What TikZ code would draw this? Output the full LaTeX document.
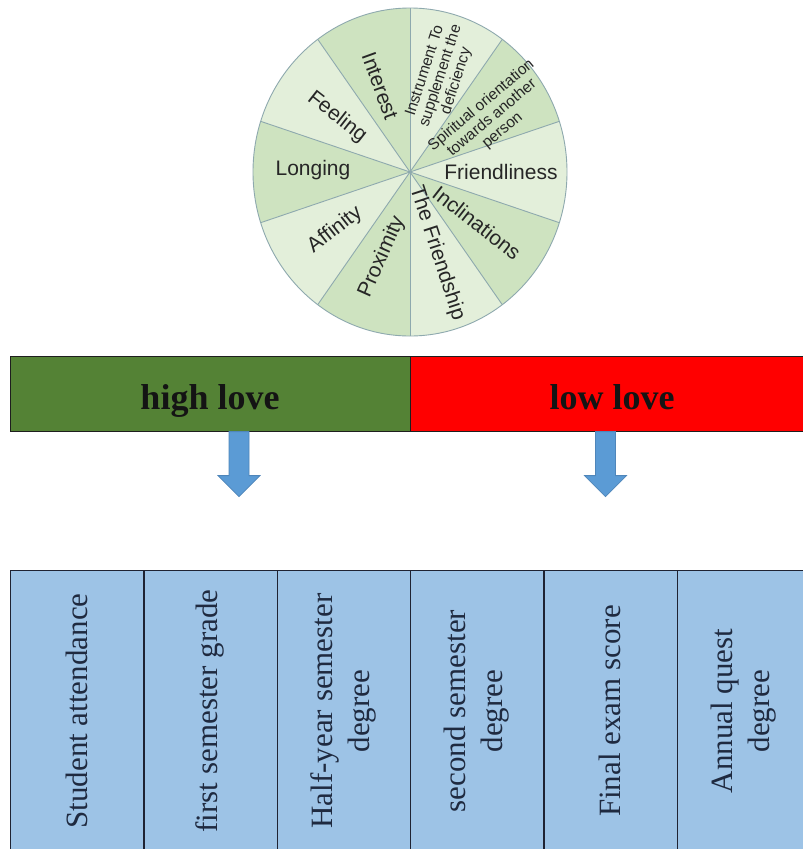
\documentclass[tikz,border=0pt]{standalone}
\usepackage{fontspec}
\setmainfont{Liberation Serif}
\newfontfamily\wheelfont{Liberation Sans}
\definecolor{wlight}{HTML}{E3EFDA}
\definecolor{wdark}{HTML}{CEE3C0}
\definecolor{wline}{HTML}{8EA9AE}
\definecolor{wtext}{HTML}{262626}
\definecolor{hlgreen}{HTML}{548235}
\definecolor{lowred}{HTML}{FF0000}
\definecolor{barline}{HTML}{1E1E1E}
\definecolor{arrfill}{HTML}{5B9BD5}
\definecolor{arrline}{HTML}{4F86BA}
\definecolor{cellfill}{HTML}{9DC3E6}
\definecolor{cellline}{HTML}{1F2333}
\definecolor{ctext}{HTML}{1F2A40}
\begin{document}
\begin{tikzpicture}[x=1pt,y=1pt,
  wl/.style={font=\wheelfont\fontsize{21}{24}\selectfont, text=wtext, inner sep=0pt},
  ws/.style={font=\wheelfont\fontsize{15.5}{16.5}\selectfont, text=wtext, inner sep=0pt, align=center},
  wborder/.style={draw=wline, line width=0.9pt},
  barbox/.style={draw=barline, line width=1.2pt, minimum height=75pt, inner sep=0pt, anchor=north west},
  bartext/.style={font=\bfseries\fontsize{36}{40}\selectfont, text=black!92, inner sep=0pt},
  cellbox/.style={draw=cellline, line width=1.3pt, fill=cellfill, minimum width=133.33pt, minimum height=300pt, inner sep=0pt, anchor=north west},
  celltext/.style={font=\fontsize{31}{37}\selectfont, text=ctext, rotate=90, align=center, inner sep=0pt},
  arrowstyle/.style={fill=arrfill, draw=arrline, line width=0.8pt},
  downarr/.pic={\draw[arrowstyle] (-10,0) -- (-10,-44) -- (-21,-44) -- (0,-65) -- (21,-44) -- (10,-44) -- (10,0) -- cycle;}
]
\path[use as bounding box, clip] (0,0) rectangle (803,-849);
\fill[white] (0,0) rectangle (803,-849);

% ---------- wheel ----------
\coordinate (C) at (410,-172);
\foreach \a/\c in {-18/wlight, 18/wdark, 54/wlight, 90/wdark, 126/wlight, 162/wdark, 198/wlight, 234/wdark, 270/wlight, 306/wdark}{
  \fill[\c] (C) -- ++(\a:157pt and 164pt) arc[start angle=\a, delta angle=36, x radius=157pt, y radius=164pt] -- cycle;
}
\foreach \a in {-18, 18, 54, 90, 126, 162, 198, 234, 270, 306}{
  \draw[wborder] (C) -- ++(\a:157pt and 164pt);
}
\draw[wborder] (C) ellipse [x radius=157pt, y radius=164pt];

\node[wl, rotate=-70] (interest) at (380,-86) {Interest};
\node[wl, rotate=-38] (feeling) at (337,-117) {Feeling};
\node[wl] (longing) at (313,-170) {Longing};
\node[wl, rotate=38] (affinity) at (335,-230) {Affinity};
\node[wl, rotate=66] (proximity) at (382,-257) {Proximity};
\node[wl, rotate=-72] (friendship) at (437,-253) {The Friendship};
\node[wl, rotate=-38] (inclinations) at (477,-223) {Inclinations};
\node[wl] (friendliness) at (501,-172) {Friendliness};
\node[ws, rotate=72] (instrument) at (441,-76) {Instrument To\\supplement the\\deficiency};
\node[ws, rotate=40] (spiritual) at (492,-118) {Spiritual orientation\\towards another\\person};

% ---------- bar ----------
\node[barbox, fill=hlgreen, minimum width=400pt] (hbar) at (10,-356) {};
\node[barbox, fill=lowred, minimum width=405pt] (lbar) at (410,-356) {};
\node[bartext] (htext) at (210,-401) {high love};
\node[bartext] (ltext) at (612,-397) {low love};

% ---------- arrows ----------
\coordinate (a1) at (239,-431.6);
\coordinate (a2) at (605.5,-431.6);
\pic at (a1) {downarr};
\pic at (a2) {downarr};

% ---------- table ----------
\node[cellbox] (c1) at (10,-570) {};
\node[cellbox] (c2) at (143.33,-570) {};
\node[cellbox] (c3) at (276.67,-570) {};
\node[cellbox] (c4) at (410,-570) {};
\node[cellbox] (c5) at (543.33,-570) {};
\node[cellbox] (c6) at (676.67,-570) {};
\node[celltext] (t1) at (76.7,-711) {Student attendance};
\node[celltext] (t2) at (210,-711) {first semester grade};
\node[celltext] (t3) at (343.3,-711) {Half-year semester\\degree};
\node[celltext] (t4) at (476.7,-711) {second semester\\degree};
\node[celltext] (t5) at (610,-711) {Final exam score};
\node[celltext] (t6) at (743.3,-711) {Annual quest\\degree};
\end{tikzpicture}
\end{document}
